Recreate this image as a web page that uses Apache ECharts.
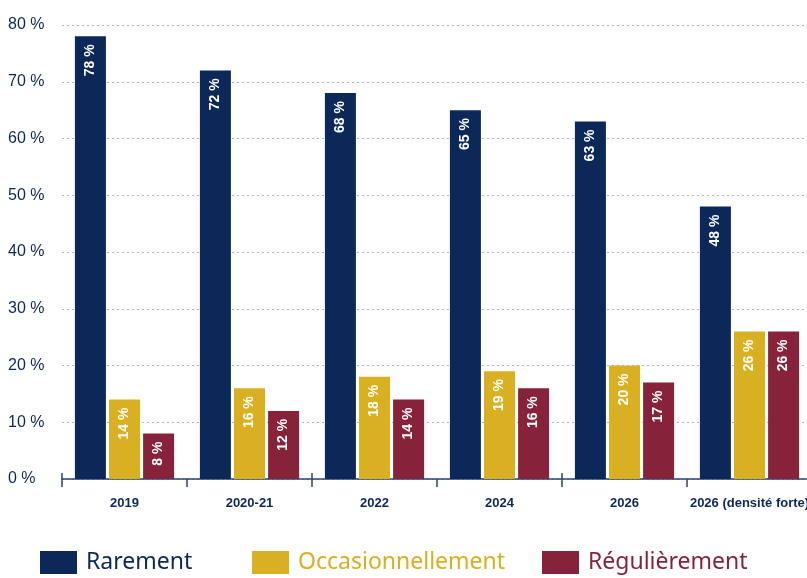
<!DOCTYPE html>
<html><head><meta charset="utf-8">
<script src="https://cdn.jsdelivr.net/npm/echarts@6/dist/echarts.min.js"></script>
<style>html,body{margin:0;padding:0;background:#fff}#c{width:807px;height:578px}</style>
</head><body><div id="c"></div>
<script>
const categories = ['2019', '2020-21', '2022', '2024', '2026', '2026 (densité forte)'];
const rarement = [78, 72, 68, 65, 63, 48];
const occasionnellement = [14, 16, 18, 19, 20, 26];
const regulierement = [8, 12, 14, 16, 17, 26];
const seriesNames = ['Rarement', 'Occasionnellement', 'Régulièrement'];
const yTicks = [0, 10, 20, 30, 40, 50, 60, 70, 80];

const NAVY = '#0b2859', GOLD = '#d9b022', RED = '#86233a';
const narrow = "'Liberation Sans', Arial, sans-serif";
const chart = echarts.init(document.getElementById('c'));

function barSeries(name, data, color) {
  return {
    name, type: 'bar', data, barWidth: 31, barGap: '10%',
    itemStyle: { color },
    label: {
      show: true, position: 'insideTop', rotate: 90, align: 'right', verticalAlign: 'middle',
      distance: 8, color: '#fff', fontFamily: narrow, fontWeight: 'bold', fontSize: 14,
      formatter: p => p.value + ' %'
    }
  };
}
function leg(i, left, color) {
  return {
    data: [seriesNames[i]], left, top: 546, itemWidth: 37, itemHeight: 23, itemGap: 0,
    icon: 'rect', textStyle: { color, fontSize: 23, fontFamily: "'Noto Sans', sans-serif", padding: [0, 0, 0, 4] },
    selectedMode: false
  };
}
chart.setOption({
  animation: false,
  legend: [leg(0, 35, NAVY), leg(1, 247, GOLD), leg(2, 537, RED)],
  grid: { left: 62, top: 25, width: 750, height: 454, outerBoundsMode: 'none', containLabel: false },
  xAxis: [{
    type: 'category', data: categories,
    axisLine: { lineStyle: { color: '#2c4370', width: 1.5 } },
    axisTick: { show: true, length: 8, lineStyle: { color: '#2c4370', width: 1.5 } },
    axisLabel: { interval: 0, color: NAVY, fontFamily: narrow, fontWeight: 'bold', fontSize: 13, margin: 18 }
  }, {
    type: 'category', data: categories, position: 'bottom', offset: 0,
    axisLine: { show: false },
    axisTick: { show: true, inside: true, length: 6, lineStyle: { color: '#2c4370', width: 1.5 } },
    axisLabel: { show: false }
  }],
  yAxis: {
    type: 'value', min: 0, max: 80, interval: 10,
    axisLine: { show: false }, axisTick: { show: false },
    splitLine: { lineStyle: { color: '#aab6ca', type: [2, 3], width: 1 } },
    axisLabel: { color: NAVY, fontFamily: narrow, fontSize: 16, align: 'left', margin: 54,
      padding: [0, 0, 10, 0], formatter: v => yTicks.includes(v) ? v + ' %' : '' }
  },
  series: [
    barSeries(seriesNames[0], rarement, NAVY),
    barSeries(seriesNames[1], occasionnellement, GOLD),
    barSeries(seriesNames[2], regulierement, RED)
  ]
});
</script></body></html>
